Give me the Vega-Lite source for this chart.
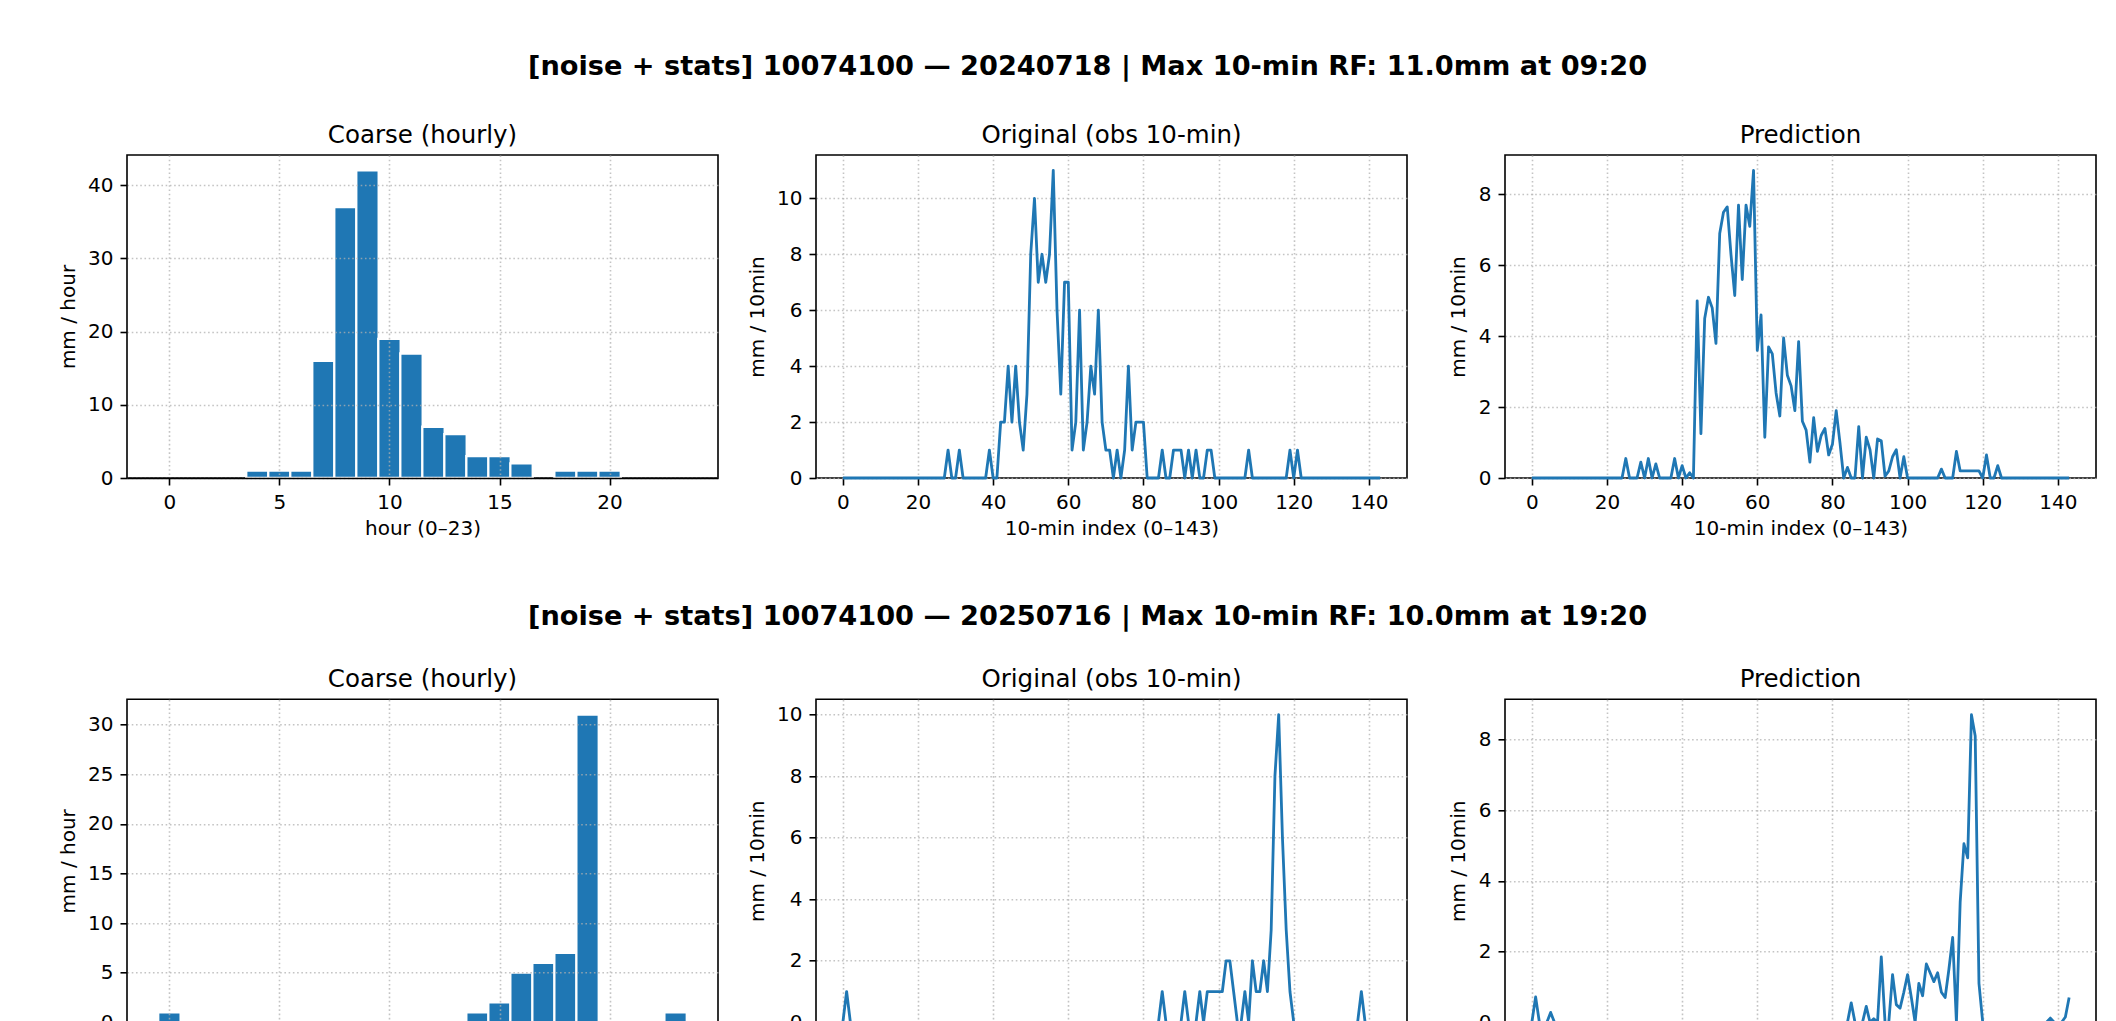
{
  "$schema": "https://vega.github.io/schema/vega-lite/v6.json",
  "background": "white",
  "padding": {"left": 57, "top": 52, "right": 5, "bottom": 5},
  "spacing": 64.3,
  "config": {
    "font": "DejaVu Sans",
    "view": {"stroke": "#000000", "strokeWidth": 1.6},
    "title": {"font": "DejaVu Sans", "fontSize": 24.5, "fontWeight": "normal", "color": "#000000", "offset": 6.8, "anchor": "middle"},
    "axis": {
      "labelFont": "DejaVu Sans", "labelFontSize": 20, "labelColor": "#000000",
      "titleFont": "DejaVu Sans", "titleFontSize": 20, "titleFontWeight": "normal", "titleColor": "#000000",
      "tickColor": "#000000", "tickWidth": 1.6, "tickSize": 7, "labelPadding": 7,
      "domain": false, "grid": true, "gridColor": "#b0b0b0", "gridDash": [1.6, 2.64], "gridWidth": 1.6, "gridOpacity": 0.75,
      "labelFlush": false, "labelOverlap": false
    },
    "axisX": {"titlePadding": 6},
    "axisY": {"titlePadding": 9.4}
  },
  "datasets": {
    "c1": [
      {"hour": 4, "mm": 1}, {"hour": 5, "mm": 1}, {"hour": 6, "mm": 1}, {"hour": 7, "mm": 16},
      {"hour": 8, "mm": 37}, {"hour": 9, "mm": 42}, {"hour": 10, "mm": 19}, {"hour": 11, "mm": 17},
      {"hour": 12, "mm": 7}, {"hour": 13, "mm": 6}, {"hour": 14, "mm": 3}, {"hour": 15, "mm": 3},
      {"hour": 16, "mm": 2}, {"hour": 18, "mm": 1}, {"hour": 19, "mm": 1}, {"hour": 20, "mm": 1}
    ],
    "c2": [
      {"hour": 0, "mm": 1}, {"hour": 14, "mm": 1}, {"hour": 15, "mm": 2}, {"hour": 16, "mm": 5},
      {"hour": 17, "mm": 6}, {"hour": 18, "mm": 7}, {"hour": 19, "mm": 31}, {"hour": 23, "mm": 1}
    ],
    "o1": [
      {"i":0,"mm":0},{"i":1,"mm":0},{"i":2,"mm":0},{"i":3,"mm":0},{"i":4,"mm":0},{"i":5,"mm":0},{"i":6,"mm":0},{"i":7,"mm":0},{"i":8,"mm":0},{"i":9,"mm":0},
      {"i":10,"mm":0},{"i":11,"mm":0},{"i":12,"mm":0},{"i":13,"mm":0},{"i":14,"mm":0},{"i":15,"mm":0},{"i":16,"mm":0},{"i":17,"mm":0},{"i":18,"mm":0},{"i":19,"mm":0},
      {"i":20,"mm":0},{"i":21,"mm":0},{"i":22,"mm":0},{"i":23,"mm":0},{"i":24,"mm":0},{"i":25,"mm":0},{"i":26,"mm":0},{"i":27,"mm":0},{"i":28,"mm":1},{"i":29,"mm":0},
      {"i":30,"mm":0},{"i":31,"mm":1},{"i":32,"mm":0},{"i":33,"mm":0},{"i":34,"mm":0},{"i":35,"mm":0},{"i":36,"mm":0},{"i":37,"mm":0},{"i":38,"mm":0},{"i":39,"mm":1},
      {"i":40,"mm":0},{"i":41,"mm":0},{"i":42,"mm":2},{"i":43,"mm":2},{"i":44,"mm":4},{"i":45,"mm":2},{"i":46,"mm":4},{"i":47,"mm":2},{"i":48,"mm":1},{"i":49,"mm":3},
      {"i":50,"mm":8},{"i":51,"mm":10},{"i":52,"mm":7},{"i":53,"mm":8},{"i":54,"mm":7},{"i":55,"mm":8},{"i":56,"mm":11},{"i":57,"mm":6},{"i":58,"mm":3},{"i":59,"mm":7},
      {"i":60,"mm":7},{"i":61,"mm":1},{"i":62,"mm":2},{"i":63,"mm":6},{"i":64,"mm":1},{"i":65,"mm":2},{"i":66,"mm":4},{"i":67,"mm":3},{"i":68,"mm":6},{"i":69,"mm":2},
      {"i":70,"mm":1},{"i":71,"mm":1},{"i":72,"mm":0},{"i":73,"mm":1},{"i":74,"mm":0},{"i":75,"mm":1},{"i":76,"mm":4},{"i":77,"mm":1},{"i":78,"mm":2},{"i":79,"mm":2},
      {"i":80,"mm":2},{"i":81,"mm":0},{"i":82,"mm":0},{"i":83,"mm":0},{"i":84,"mm":0},{"i":85,"mm":1},{"i":86,"mm":0},{"i":87,"mm":0},{"i":88,"mm":1},{"i":89,"mm":1},
      {"i":90,"mm":1},{"i":91,"mm":0},{"i":92,"mm":1},{"i":93,"mm":0},{"i":94,"mm":1},{"i":95,"mm":0},{"i":96,"mm":0},{"i":97,"mm":1},{"i":98,"mm":1},{"i":99,"mm":0},
      {"i":100,"mm":0},{"i":101,"mm":0},{"i":102,"mm":0},{"i":103,"mm":0},{"i":104,"mm":0},{"i":105,"mm":0},{"i":106,"mm":0},{"i":107,"mm":0},{"i":108,"mm":1},{"i":109,"mm":0},
      {"i":110,"mm":0},{"i":111,"mm":0},{"i":112,"mm":0},{"i":113,"mm":0},{"i":114,"mm":0},{"i":115,"mm":0},{"i":116,"mm":0},{"i":117,"mm":0},{"i":118,"mm":0},{"i":119,"mm":1},
      {"i":120,"mm":0},{"i":121,"mm":1},{"i":122,"mm":0},{"i":123,"mm":0},{"i":124,"mm":0},{"i":125,"mm":0},{"i":126,"mm":0},{"i":127,"mm":0},{"i":128,"mm":0},{"i":129,"mm":0},
      {"i":130,"mm":0},{"i":131,"mm":0},{"i":132,"mm":0},{"i":133,"mm":0},{"i":134,"mm":0},{"i":135,"mm":0},{"i":136,"mm":0},{"i":137,"mm":0},{"i":138,"mm":0},{"i":139,"mm":0},
      {"i":140,"mm":0},{"i":141,"mm":0},{"i":142,"mm":0},{"i":143,"mm":0}
    ],
    "p1": [
      {"i":0,"mm":0},{"i":1,"mm":0},{"i":2,"mm":0},{"i":3,"mm":0},{"i":4,"mm":0},{"i":5,"mm":0},{"i":6,"mm":0},{"i":7,"mm":0},{"i":8,"mm":0},{"i":9,"mm":0},
      {"i":10,"mm":0},{"i":11,"mm":0},{"i":12,"mm":0},{"i":13,"mm":0},{"i":14,"mm":0},{"i":15,"mm":0},{"i":16,"mm":0},{"i":17,"mm":0},{"i":18,"mm":0},{"i":19,"mm":0},
      {"i":20,"mm":0},{"i":21,"mm":0},{"i":22,"mm":0},{"i":23,"mm":0},{"i":24,"mm":0},{"i":25,"mm":0.55},{"i":26,"mm":0},{"i":27,"mm":0},{"i":28,"mm":0},{"i":29,"mm":0.45},
      {"i":30,"mm":0},{"i":31,"mm":0.55},{"i":32,"mm":0},{"i":33,"mm":0.4},{"i":34,"mm":0},{"i":35,"mm":0},{"i":36,"mm":0},{"i":37,"mm":0},{"i":38,"mm":0.55},{"i":39,"mm":0},
      {"i":40,"mm":0.35},{"i":41,"mm":0},{"i":42,"mm":0.15},{"i":43,"mm":0},{"i":44,"mm":5.0},{"i":45,"mm":1.25},{"i":46,"mm":4.5},{"i":47,"mm":5.1},{"i":48,"mm":4.8},{"i":49,"mm":3.8},
      {"i":50,"mm":6.9},{"i":51,"mm":7.5},{"i":52,"mm":7.65},{"i":53,"mm":6.3},{"i":54,"mm":5.15},{"i":55,"mm":7.7},{"i":56,"mm":5.6},{"i":57,"mm":7.7},{"i":58,"mm":7.1},{"i":59,"mm":8.68},
      {"i":60,"mm":3.6},{"i":61,"mm":4.6},{"i":62,"mm":1.15},{"i":63,"mm":3.7},{"i":64,"mm":3.5},{"i":65,"mm":2.4},{"i":66,"mm":1.75},{"i":67,"mm":3.95},{"i":68,"mm":2.9},{"i":69,"mm":2.6},
      {"i":70,"mm":1.9},{"i":71,"mm":3.85},{"i":72,"mm":1.6},{"i":73,"mm":1.35},{"i":74,"mm":0.45},{"i":75,"mm":1.7},{"i":76,"mm":0.75},{"i":77,"mm":1.2},{"i":78,"mm":1.4},{"i":79,"mm":0.65},
      {"i":80,"mm":0.95},{"i":81,"mm":1.9},{"i":82,"mm":1.0},{"i":83,"mm":0},{"i":84,"mm":0.3},{"i":85,"mm":0},{"i":86,"mm":0},{"i":87,"mm":1.45},{"i":88,"mm":0},{"i":89,"mm":1.15},
      {"i":90,"mm":0.8},{"i":91,"mm":0},{"i":92,"mm":1.1},{"i":93,"mm":1.05},{"i":94,"mm":0.05},{"i":95,"mm":0.2},{"i":96,"mm":0.6},{"i":97,"mm":0.8},{"i":98,"mm":0},{"i":99,"mm":0.6},
      {"i":100,"mm":0},{"i":101,"mm":0},{"i":102,"mm":0},{"i":103,"mm":0},{"i":104,"mm":0},{"i":105,"mm":0},{"i":106,"mm":0},{"i":107,"mm":0},{"i":108,"mm":0},{"i":109,"mm":0.25},
      {"i":110,"mm":0},{"i":111,"mm":0},{"i":112,"mm":0},{"i":113,"mm":0.75},{"i":114,"mm":0.2},{"i":115,"mm":0.2},{"i":116,"mm":0.2},{"i":117,"mm":0.2},{"i":118,"mm":0.2},{"i":119,"mm":0.2},
      {"i":120,"mm":0},{"i":121,"mm":0.65},{"i":122,"mm":0},{"i":123,"mm":0},{"i":124,"mm":0.35},{"i":125,"mm":0},{"i":126,"mm":0},{"i":127,"mm":0},{"i":128,"mm":0},{"i":129,"mm":0},
      {"i":130,"mm":0},{"i":131,"mm":0},{"i":132,"mm":0},{"i":133,"mm":0},{"i":134,"mm":0},{"i":135,"mm":0},{"i":136,"mm":0},{"i":137,"mm":0},{"i":138,"mm":0},{"i":139,"mm":0},
      {"i":140,"mm":0},{"i":141,"mm":0},{"i":142,"mm":0},{"i":143,"mm":0}
    ],
    "o2": [
      {"i":0,"mm":0},{"i":1,"mm":1},{"i":2,"mm":0},{"i":3,"mm":0},{"i":4,"mm":0},{"i":5,"mm":0},{"i":6,"mm":0},{"i":7,"mm":0},{"i":8,"mm":0},{"i":9,"mm":0},
      {"i":10,"mm":0},{"i":11,"mm":0},{"i":12,"mm":0},{"i":13,"mm":0},{"i":14,"mm":0},{"i":15,"mm":0},{"i":16,"mm":0},{"i":17,"mm":0},{"i":18,"mm":0},{"i":19,"mm":0},
      {"i":20,"mm":0},{"i":21,"mm":0},{"i":22,"mm":0},{"i":23,"mm":0},{"i":24,"mm":0},{"i":25,"mm":0},{"i":26,"mm":0},{"i":27,"mm":0},{"i":28,"mm":0},{"i":29,"mm":0},
      {"i":30,"mm":0},{"i":31,"mm":0},{"i":32,"mm":0},{"i":33,"mm":0},{"i":34,"mm":0},{"i":35,"mm":0},{"i":36,"mm":0},{"i":37,"mm":0},{"i":38,"mm":0},{"i":39,"mm":0},
      {"i":40,"mm":0},{"i":41,"mm":0},{"i":42,"mm":0},{"i":43,"mm":0},{"i":44,"mm":0},{"i":45,"mm":0},{"i":46,"mm":0},{"i":47,"mm":0},{"i":48,"mm":0},{"i":49,"mm":0},
      {"i":50,"mm":0},{"i":51,"mm":0},{"i":52,"mm":0},{"i":53,"mm":0},{"i":54,"mm":0},{"i":55,"mm":0},{"i":56,"mm":0},{"i":57,"mm":0},{"i":58,"mm":0},{"i":59,"mm":0},
      {"i":60,"mm":0},{"i":61,"mm":0},{"i":62,"mm":0},{"i":63,"mm":0},{"i":64,"mm":0},{"i":65,"mm":0},{"i":66,"mm":0},{"i":67,"mm":0},{"i":68,"mm":0},{"i":69,"mm":0},
      {"i":70,"mm":0},{"i":71,"mm":0},{"i":72,"mm":0},{"i":73,"mm":0},{"i":74,"mm":0},{"i":75,"mm":0},{"i":76,"mm":0},{"i":77,"mm":0},{"i":78,"mm":0},{"i":79,"mm":0},
      {"i":80,"mm":0},{"i":81,"mm":0},{"i":82,"mm":0},{"i":83,"mm":0},{"i":84,"mm":0},{"i":85,"mm":1},{"i":86,"mm":0},{"i":87,"mm":0},{"i":88,"mm":0},{"i":89,"mm":0},
      {"i":90,"mm":0},{"i":91,"mm":1},{"i":92,"mm":0},{"i":93,"mm":0},{"i":94,"mm":0},{"i":95,"mm":1},{"i":96,"mm":0},{"i":97,"mm":1},{"i":98,"mm":1},{"i":99,"mm":1},
      {"i":100,"mm":1},{"i":101,"mm":1},{"i":102,"mm":2},{"i":103,"mm":2},{"i":104,"mm":1},{"i":105,"mm":0},{"i":106,"mm":0},{"i":107,"mm":1},{"i":108,"mm":0},{"i":109,"mm":2},
      {"i":110,"mm":1},{"i":111,"mm":1},{"i":112,"mm":2},{"i":113,"mm":1},{"i":114,"mm":3},{"i":115,"mm":8},{"i":116,"mm":10},{"i":117,"mm":6},{"i":118,"mm":3},{"i":119,"mm":1},
      {"i":120,"mm":0},{"i":121,"mm":0},{"i":122,"mm":0},{"i":123,"mm":0},{"i":124,"mm":0},{"i":125,"mm":0},{"i":126,"mm":0},{"i":127,"mm":0},{"i":128,"mm":0},{"i":129,"mm":0},
      {"i":130,"mm":0},{"i":131,"mm":0},{"i":132,"mm":0},{"i":133,"mm":0},{"i":134,"mm":0},{"i":135,"mm":0},{"i":136,"mm":0},{"i":137,"mm":0},{"i":138,"mm":1},{"i":139,"mm":0},
      {"i":140,"mm":0},{"i":141,"mm":0},{"i":142,"mm":0},{"i":143,"mm":0}
    ],
    "p2": [
      {"i":0,"mm":0},{"i":1,"mm":0.72},{"i":2,"mm":0},{"i":3,"mm":0},{"i":4,"mm":0},{"i":5,"mm":0.28},{"i":6,"mm":0},{"i":7,"mm":0},{"i":8,"mm":0},{"i":9,"mm":0},
      {"i":10,"mm":0},{"i":11,"mm":0},{"i":12,"mm":0},{"i":13,"mm":0},{"i":14,"mm":0},{"i":15,"mm":0},{"i":16,"mm":0},{"i":17,"mm":0},{"i":18,"mm":0},{"i":19,"mm":0},
      {"i":20,"mm":0},{"i":21,"mm":0},{"i":22,"mm":0},{"i":23,"mm":0},{"i":24,"mm":0},{"i":25,"mm":0},{"i":26,"mm":0},{"i":27,"mm":0},{"i":28,"mm":0},{"i":29,"mm":0},
      {"i":30,"mm":0},{"i":31,"mm":0},{"i":32,"mm":0},{"i":33,"mm":0},{"i":34,"mm":0},{"i":35,"mm":0},{"i":36,"mm":0},{"i":37,"mm":0},{"i":38,"mm":0},{"i":39,"mm":0},
      {"i":40,"mm":0},{"i":41,"mm":0},{"i":42,"mm":0},{"i":43,"mm":0},{"i":44,"mm":0},{"i":45,"mm":0},{"i":46,"mm":0},{"i":47,"mm":0},{"i":48,"mm":0},{"i":49,"mm":0},
      {"i":50,"mm":0},{"i":51,"mm":0},{"i":52,"mm":0},{"i":53,"mm":0},{"i":54,"mm":0},{"i":55,"mm":0},{"i":56,"mm":0},{"i":57,"mm":0},{"i":58,"mm":0},{"i":59,"mm":0},
      {"i":60,"mm":0},{"i":61,"mm":0},{"i":62,"mm":0},{"i":63,"mm":0},{"i":64,"mm":0},{"i":65,"mm":0},{"i":66,"mm":0},{"i":67,"mm":0},{"i":68,"mm":0},{"i":69,"mm":0},
      {"i":70,"mm":0},{"i":71,"mm":0},{"i":72,"mm":0},{"i":73,"mm":0},{"i":74,"mm":0},{"i":75,"mm":0},{"i":76,"mm":0},{"i":77,"mm":0},{"i":78,"mm":0},{"i":79,"mm":0},
      {"i":80,"mm":0},{"i":81,"mm":0},{"i":82,"mm":0},{"i":83,"mm":0},{"i":84,"mm":0},{"i":85,"mm":0.55},{"i":86,"mm":0},{"i":87,"mm":0},{"i":88,"mm":0},{"i":89,"mm":0.45},
      {"i":90,"mm":0},{"i":91,"mm":0.1},{"i":92,"mm":0},{"i":93,"mm":1.85},{"i":94,"mm":0},{"i":95,"mm":0},{"i":96,"mm":1.35},{"i":97,"mm":0.5},{"i":98,"mm":0.4},{"i":99,"mm":0.85},
      {"i":100,"mm":1.35},{"i":101,"mm":0.7},{"i":102,"mm":0},{"i":103,"mm":1.1},{"i":104,"mm":0.75},{"i":105,"mm":1.65},{"i":106,"mm":1.4},{"i":107,"mm":1.15},{"i":108,"mm":1.4},{"i":109,"mm":0.85},
      {"i":110,"mm":0.7},{"i":111,"mm":1.5},{"i":112,"mm":2.4},{"i":113,"mm":0},{"i":114,"mm":3.4},{"i":115,"mm":5.05},{"i":116,"mm":4.65},{"i":117,"mm":8.7},{"i":118,"mm":8.1},{"i":119,"mm":1.1},
      {"i":120,"mm":0},{"i":121,"mm":0},{"i":122,"mm":0},{"i":123,"mm":0},{"i":124,"mm":0},{"i":125,"mm":0},{"i":126,"mm":0},{"i":127,"mm":0},{"i":128,"mm":0},{"i":129,"mm":0},
      {"i":130,"mm":0},{"i":131,"mm":0},{"i":132,"mm":0},{"i":133,"mm":0},{"i":134,"mm":0},{"i":135,"mm":0},{"i":136,"mm":0},{"i":137,"mm":0},{"i":138,"mm":0.12},{"i":139,"mm":0},
      {"i":140,"mm":0},{"i":141,"mm":0},{"i":142,"mm":0.15},{"i":143,"mm":0.7}
    ]
  },
  "vconcat": [
    {
      "title": {"text": "[noise + stats] 10074100 — 20240718 | Max 10-min RF: 11.0mm at 09:20", "fontSize": 27.2, "fontWeight": "bold", "offset": 41.2, "dx": 10.5},
      "bounds": "flush",
      "spacing": 98,
      "hconcat": [
        {
          "width": 591, "height": 323,
          "title": "Coarse (hourly)",
          "data": {"name": "c1"},
          "mark": {"type": "bar", "width": 22.4, "color": "#1f77b4", "stroke": "#ffffff", "strokeWidth": 2.3},
          "encoding": {
            "x": {"field": "hour", "type": "quantitative", "scale": {"domain": [-1.7, 24.7], "nice": false, "zero": false},
                  "axis": {"title": "hour (0–23)", "values": [0, 5, 10, 15, 20], "zindex": 1, "domain": true, "domainColor": "#000000", "domainWidth": 1.6}},
            "y": {"field": "mm", "type": "quantitative", "scale": {"domain": [0, 44.1], "nice": false},
                  "axis": {"title": "mm / hour", "values": [0, 10, 20, 30, 40], "zindex": 1}}
          }
        },
        {
          "width": 591, "height": 323,
          "title": "Original (obs 10-min)",
          "data": {"name": "o1"},
          "mark": {"type": "line", "color": "#1f77b4", "strokeWidth": 2.8, "strokeJoin": "round"},
          "encoding": {
            "x": {"field": "i", "type": "quantitative", "scale": {"domain": [-7.15, 150.15], "nice": false, "zero": false},
                  "axis": {"title": "10-min index (0–143)", "values": [0, 20, 40, 60, 80, 100, 120, 140]}},
            "y": {"field": "mm", "type": "quantitative", "scale": {"domain": [0, 11.55], "nice": false},
                  "axis": {"title": "mm / 10min", "values": [0, 2, 4, 6, 8, 10]}}
          }
        },
        {
          "width": 591, "height": 323,
          "title": "Prediction",
          "data": {"name": "p1"},
          "mark": {"type": "line", "color": "#1f77b4", "strokeWidth": 2.8, "strokeJoin": "round"},
          "encoding": {
            "x": {"field": "i", "type": "quantitative", "scale": {"domain": [-7.15, 150.15], "nice": false, "zero": false},
                  "axis": {"title": "10-min index (0–143)", "values": [0, 20, 40, 60, 80, 100, 120, 140]}},
            "y": {"field": "mm", "type": "quantitative", "scale": {"domain": [0, 9.114], "nice": false},
                  "axis": {"title": "mm / 10min", "values": [0, 2, 4, 6, 8]}}
          }
        }
      ]
    },
    {
      "title": {"text": "[noise + stats] 10074100 — 20250716 | Max 10-min RF: 10.0mm at 19:20", "fontSize": 27.2, "fontWeight": "bold", "offset": 34.7, "dx": 10.5},
      "bounds": "flush",
      "spacing": 98,
      "hconcat": [
        {
          "width": 591, "height": 323,
          "title": "Coarse (hourly)",
          "data": {"name": "c2"},
          "mark": {"type": "bar", "width": 22.4, "color": "#1f77b4", "stroke": "#ffffff", "strokeWidth": 2.3},
          "encoding": {
            "x": {"field": "hour", "type": "quantitative", "scale": {"domain": [-1.7, 24.7], "nice": false, "zero": false},
                  "axis": {"title": "hour (0–23)", "values": [0, 5, 10, 15, 20], "zindex": 1, "domain": true, "domainColor": "#000000", "domainWidth": 1.6}},
            "y": {"field": "mm", "type": "quantitative", "scale": {"domain": [0, 32.55], "nice": false},
                  "axis": {"title": "mm / hour", "values": [0, 5, 10, 15, 20, 25, 30], "zindex": 1}}
          }
        },
        {
          "width": 591, "height": 323,
          "title": "Original (obs 10-min)",
          "data": {"name": "o2"},
          "mark": {"type": "line", "color": "#1f77b4", "strokeWidth": 2.8, "strokeJoin": "round"},
          "encoding": {
            "x": {"field": "i", "type": "quantitative", "scale": {"domain": [-7.15, 150.15], "nice": false, "zero": false},
                  "axis": {"title": "10-min index (0–143)", "values": [0, 20, 40, 60, 80, 100, 120, 140]}},
            "y": {"field": "mm", "type": "quantitative", "scale": {"domain": [0, 10.5], "nice": false},
                  "axis": {"title": "mm / 10min", "values": [0, 2, 4, 6, 8, 10]}}
          }
        },
        {
          "width": 591, "height": 323,
          "title": "Prediction",
          "data": {"name": "p2"},
          "mark": {"type": "line", "color": "#1f77b4", "strokeWidth": 2.8, "strokeJoin": "round"},
          "encoding": {
            "x": {"field": "i", "type": "quantitative", "scale": {"domain": [-7.15, 150.15], "nice": false, "zero": false},
                  "axis": {"title": "10-min index (0–143)", "values": [0, 20, 40, 60, 80, 100, 120, 140]}},
            "y": {"field": "mm", "type": "quantitative", "scale": {"domain": [0, 9.135], "nice": false},
                  "axis": {"title": "mm / 10min", "values": [0, 2, 4, 6, 8]}}
          }
        }
      ]
    }
  ]
}
